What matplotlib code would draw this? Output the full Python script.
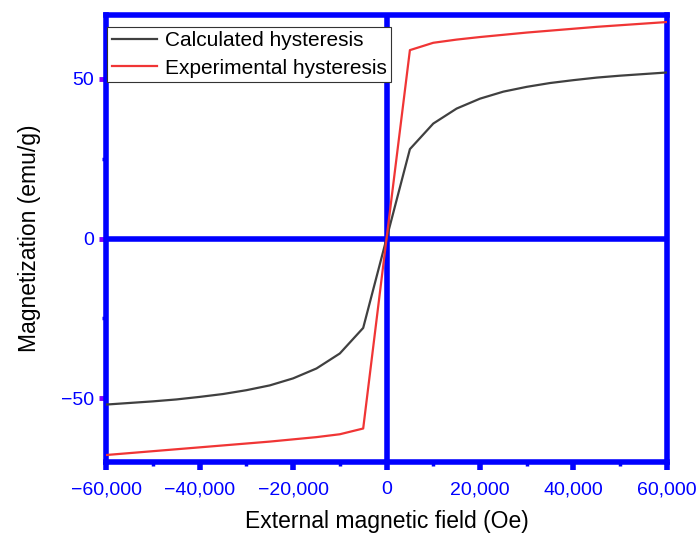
import matplotlib.pyplot as plt
from matplotlib.ticker import FuncFormatter, MultipleLocator

plt.rcParams['font.family'] = ['Liberation Sans', 'DejaVu Sans']

field = [-60000, -55000, -50000, -45000, -40000, -35000, -30000, -25000, -20000,
         -15000, -10000, -5000, 0, 5000, 10000, 15000, 20000, 25000, 30000,
         35000, 40000, 45000, 50000, 55000, 60000]
calculated = [-52.0, -51.5, -51.0, -50.4, -49.6, -48.7, -47.5, -46.0, -43.8,
              -40.7, -36.0, -28.0, 0.0, 28.0, 36.0, 40.7, 43.8, 46.0, 47.5,
              48.7, 49.6, 50.4, 51.0, 51.5, 52.0]
experimental = [-67.8, -67.2, -66.6, -66.0, -65.4, -64.8, -64.2, -63.6, -62.9,
                -62.2, -61.3, -59.5, 0.0, 59.0, 61.3, 62.3, 63.1, 63.8, 64.5,
                65.1, 65.7, 66.3, 66.8, 67.3, 67.8]

blue = '#0000ff'

fig = plt.figure(figsize=(6.99, 5.36), dpi=100)
ax = fig.add_axes([0.152, 0.138, 0.802, 0.834])

ax.axhline(0, color=blue, lw=4, zorder=1)
ax.axvline(0, color=blue, lw=4, zorder=1)
ax.plot(field, calculated, color='#404040', lw=1.6, label='Calculated hysteresis', zorder=3)
ax.plot(field, experimental, color='#f03535', lw=1.6, label='Experimental hysteresis', zorder=3)

ax.set_xlim(-60000, 60000)
ax.set_ylim(-70, 70)
for s in ax.spines.values():
    s.set_color(blue)
    s.set_linewidth(4)

ax.xaxis.set_major_locator(MultipleLocator(20000))
ax.xaxis.set_minor_locator(MultipleLocator(10000))
ax.yaxis.set_major_locator(MultipleLocator(50))
ax.yaxis.set_minor_locator(MultipleLocator(25))
ax.xaxis.set_major_formatter(FuncFormatter(lambda v, p: f'{int(v):,}'.replace('-', '\u2212')))
ax.tick_params(axis='x', which='major', length=6, width=4, color=blue, labelcolor=blue,
               labelsize=14, pad=8)
ax.tick_params(axis='x', which='minor', length=3, width=2.5, color=blue)
ax.tick_params(axis='y', which='major', length=5, width=3.5, color='#8000ff', labelcolor=blue,
               labelsize=14, pad=4)
ax.tick_params(axis='y', which='minor', length=3, width=2.5, color=blue)

ax.set_xlabel('External magnetic field (Oe)', fontsize=16.5, labelpad=8)
ax.set_ylabel('Magnetization (emu/g)', fontsize=16.5, labelpad=14)

leg = ax.legend(loc='upper left', bbox_to_anchor=(0.002, 0.973), fontsize=15, fancybox=False,
                edgecolor='#333333', framealpha=1, borderpad=0.2, labelspacing=0.4,
                handlelength=2.2, handletextpad=0.35, borderaxespad=0.0)
leg.get_frame().set_linewidth(0.8)
for h in leg.get_lines():
    h.set_linewidth(1.6)

fig.savefig('out.png', dpi=100)
